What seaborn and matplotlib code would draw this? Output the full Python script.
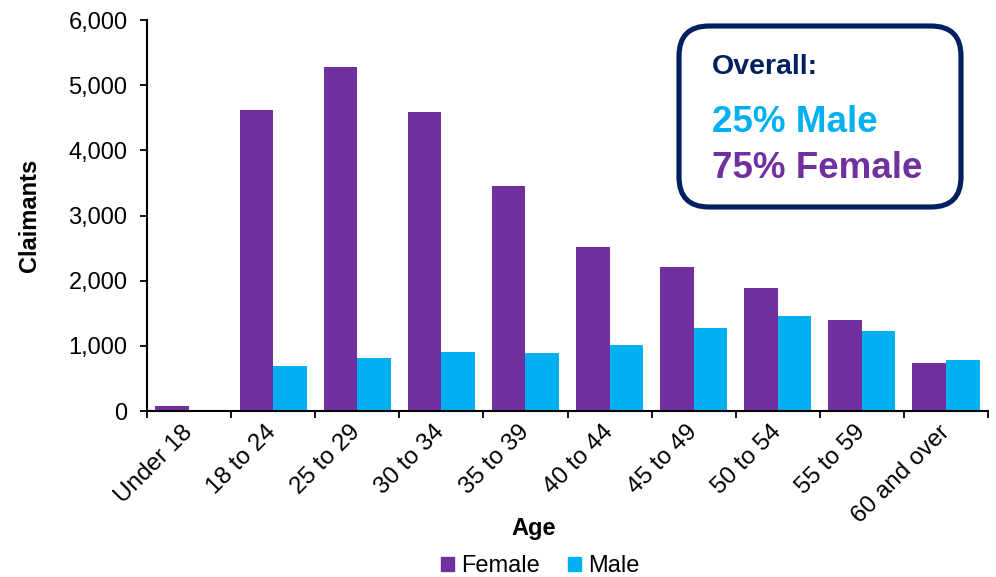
import matplotlib
matplotlib.use("Agg")
import matplotlib.pyplot as plt
import numpy as np
import pandas as pd
import seaborn as sns
from matplotlib.patches import FancyBboxPatch
from matplotlib.ticker import FuncFormatter, FixedLocator
from matplotlib.transforms import IdentityTransform

# data
age_groups = ["Under 18", "18 to 24", "25 to 29", "30 to 34", "35 to 39",
              "40 to 44", "45 to 49", "50 to 54", "55 to 59", "60 and over"]
female = [77, 4625, 5275, 4585, 3450, 2520, 2210, 1883, 1390, 737]
male = [8, 695, 818, 910, 890, 1020, 1274, 1458, 1228, 787]
sexes = ["Female", "Male"]
colors = {"Female": "#7030A0", "Male": "#00B0F0"}
overall_male_pct = 25
overall_female_pct = 75

sns.set_style("ticks")
plt.rcParams["font.family"] = ["Liberation Sans", "DejaVu Sans"]
plt.rcParams.update({
    "text.color": "black",
    "axes.labelcolor": "black",
    "xtick.color": "black",
    "ytick.color": "black",
})

df = pd.DataFrame({
    "Age": age_groups * 2,
    "Claimants": female + male,
    "Sex": ["Female"] * len(age_groups) + ["Male"] * len(age_groups),
})

fig = plt.figure(figsize=(9.96, 5.77), dpi=100)
ax = fig.add_axes([147 / 996, 1 - 411 / 577, (988 - 147) / 996, (411 - 20) / 577])

sns.barplot(data=df, x="Age", y="Claimants", hue="Sex", hue_order=sexes,
            order=age_groups, palette=colors, width=0.8, saturation=1,
            edgecolor="none", linewidth=0, ax=ax, legend=False)

ax.set_ylim(0, 6000)
ax.set_xlim(-0.5, len(age_groups) - 0.5)
ax.yaxis.set_major_locator(FixedLocator(np.arange(0, 6001, 1000)))
ax.yaxis.set_major_formatter(FuncFormatter(lambda v, p: f"{int(v):,}"))

# Excel-style tick marks between categories
ax.set_xticks(np.arange(-0.5, len(age_groups), 1.0), minor=True)
ax.tick_params(axis="x", which="major", length=0, pad=13)
ax.tick_params(axis="x", which="minor", length=5, width=1.3, direction="out")
ax.tick_params(axis="y", which="major", length=5, width=1.3, direction="out",
               pad=9, labelsize=17)
for lab in ax.get_xticklabels():
    lab.set_rotation(45)
    lab.set_ha("right")
    lab.set_va("center")
    lab.set_rotation_mode("anchor")
    lab.set_fontsize(17.5)

for side in ["top", "right"]:
    ax.spines[side].set_visible(False)
for side in ["left", "bottom"]:
    ax.spines[side].set_linewidth(1.5)
    ax.spines[side].set_color("black")

ax.set_ylabel("Claimants", fontsize=17, fontweight="bold")
ax.yaxis.set_label_coords(-0.126, 0.5)
ax.set_xlabel("Age", fontsize=17, fontweight="bold")
ax.xaxis.set_label_coords((534 - 147) / 841, -0.27)

handles = [plt.Rectangle((0, 0), 1, 1, color=colors[s]) for s in sexes]
fig.legend(handles, sexes, loc="center", bbox_to_anchor=(540 / 996, 1 - 566 / 577),
           ncol=2, frameon=False, fontsize=17, handlelength=0.55,
           handleheight=0.55, handletextpad=0.3, columnspacing=1.2)

# summary box
box = FancyBboxPatch((679, 577 - 207), 282, 181,
                     boxstyle="round,pad=0,rounding_size=30",
                     transform=IdentityTransform(), facecolor="white",
                     edgecolor="#002060", linewidth=3.7, zorder=5)
fig.patches.append(box)
fig.text(712 / 996, 1 - 67 / 577, "Overall:", color="#002060", fontsize=20.5,
         fontweight="bold", ha="left", va="center", zorder=6)
fig.text(712 / 996, 1 - 122 / 577, f"{overall_male_pct}% Male", color="#00B0F0",
         fontsize=26.5, fontweight="bold", ha="left", va="center", zorder=6)
fig.text(712 / 996, 1 - 168 / 577, f"{overall_female_pct}% Female", color="#7030A0",
         fontsize=26.5, fontweight="bold", ha="left", va="center", zorder=6)

fig.savefig("out.png", dpi=100)
plt.close(fig)
